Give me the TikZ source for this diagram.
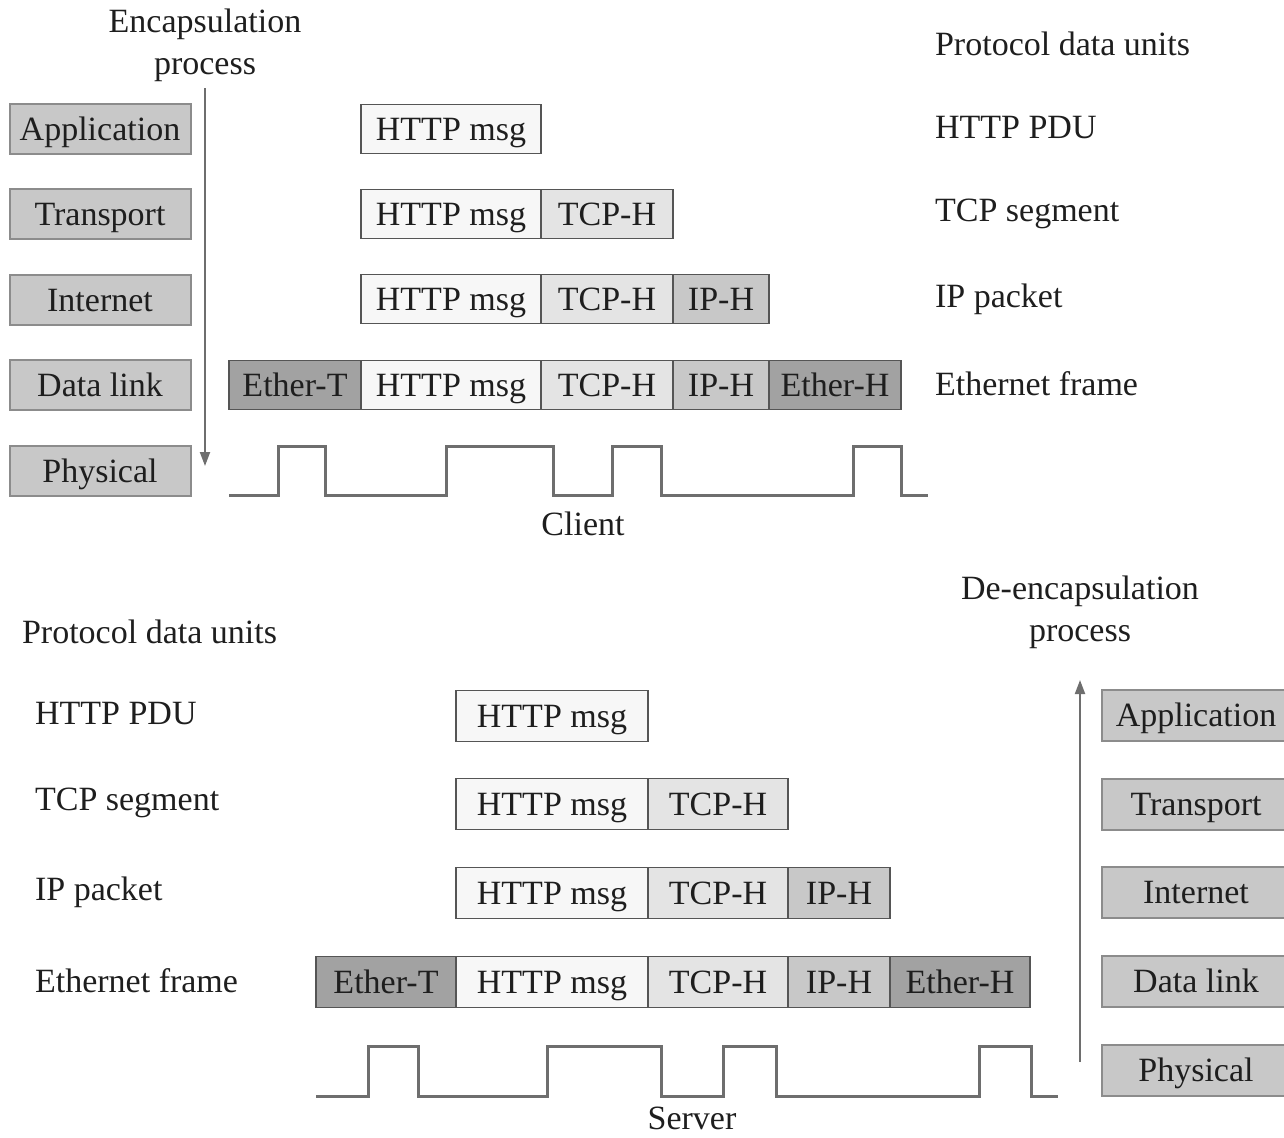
\documentclass[tikz,border=0pt]{standalone}
\usepackage{fontspec}
\setmainfont{Liberation Serif}
\usetikzlibrary{arrows.meta}

\definecolor{layerfill}{HTML}{C8C8C8}
\definecolor{layeredge}{HTML}{8C8C8C}
\definecolor{msgfill}{HTML}{F7F7F7}
\definecolor{tcpfill}{HTML}{E4E4E4}
\definecolor{ipfill}{HTML}{C8C8C8}
\definecolor{etherfill}{HTML}{A2A2A2}
\definecolor{segedge}{HTML}{555555}
\definecolor{wavegray}{HTML}{6E6E6E}
\definecolor{inkgray}{HTML}{1E1E1E}

\newcommand{\pdufont}{\fontsize{17}{21}\selectfont}

\begin{document}
\begin{tikzpicture}[
    x=0.5pt, y=-0.5pt,
    every node/.style={text=inkgray},
    layer/.style={rectangle, draw=layeredge, fill=layerfill, line width=1pt, inner sep=0pt, text height=12.5pt, text depth=1.3pt, minimum width=90.5pt, minimum height=25pt, font=\pdufont},
    seg/.style={rectangle, draw=segedge, line width=0.9pt, inner sep=0pt, text height=12.5pt, text depth=1.3pt, minimum height=24.5pt, font=\pdufont},
    bigseg/.style={seg, minimum height=25.5pt},
    unit/.style={font=\pdufont, anchor=west},
    title/.style={font=\pdufont, align=center},
    wave/.style={draw=wavegray, line width=1.5pt},
    arrow/.style={-{Triangle[length=7pt, width=5pt]}, draw=wavegray, fill=wavegray, line width=1pt}
]
\useasboundingbox (0,0) rectangle (1284,1137);

% Encapsulation (client)
\node[title] (enc) at (205,45) {Encapsulation\\process};
\coordinate (encend) at (205,466);
\draw[arrow] (enc.south) -- (encend);

\node[layer] (app1) at (100,129) {Application};
\node[layer] (trans1) at (100,214) {Transport};
\node[layer] (inet1) at (100,300) {Internet};
\node[layer] (link1) at (100,385) {Data link};
\node[layer] (phys1) at (100,471) {Physical};

\node[unit] (units1) at (928,44) {Protocol data units};
\node[unit] (httppdu1) at (928,128) {HTTP PDU};
\node[unit] (tcpseg1) at (928,214) {TCP segment};
\node[unit] (ippkt1) at (928,299) {IP packet};
\node[unit] (frame1) at (928,384) {Ethernet frame};

% row 1
\node[seg, fill=msgfill, minimum width=90pt] (msg1a) at (451,129) {HTTP msg};
% row 2
\node[seg, fill=msgfill, minimum width=90pt] (msg1b) at (451,214) {HTTP msg};
\node[seg, fill=tcpfill, minimum width=66pt] (tcp1b) at (607,214) {TCP-H};
% row 3
\node[seg, fill=msgfill, minimum width=90pt] (msg1c) at (451,299) {HTTP msg};
\node[seg, fill=tcpfill, minimum width=66pt] (tcp1c) at (607,299) {TCP-H};
\node[seg, fill=ipfill, minimum width=48pt] (ip1c) at (721,299) {IP-H};
% row 4
\node[seg, fill=etherfill, minimum width=66pt] (ethT1) at (295,385) {Ether-T};
\node[seg, fill=msgfill, minimum width=90pt] (msg1d) at (451,385) {HTTP msg};
\node[seg, fill=tcpfill, minimum width=66pt] (tcp1d) at (607,385) {TCP-H};
\node[seg, fill=ipfill, minimum width=48pt] (ip1d) at (721,385) {IP-H};
\node[seg, fill=etherfill, minimum width=66pt] (ethH1) at (835,385) {Ether-H};

% signal
\draw[wave] (229,495) -- (278,495) -- (278,446) -- (325,446) -- (325,495) -- (446,495) -- (446,446) -- (553,446) -- (553,495) -- (612,495) -- (612,446) -- (661,446) -- (661,495) -- (853,495) -- (853,446) -- (901,446) -- (901,495) -- (928,495);
\node[title] (client) at (583,524) {Client};

% De-encapsulation (server)
\node[title] (deenc) at (1080,612) {De-encapsulation\\process};
\coordinate (decstart) at (1080,1062);
\coordinate (decend) at (1080,680);
\draw[arrow] (decstart) -- (decend);

\node[layer, minimum width=94pt, minimum height=25.5pt] (app2) at (1196,715) {Application};
\node[layer, minimum width=94pt, minimum height=25.5pt] (trans2) at (1196,804) {Transport};
\node[layer, minimum width=94pt, minimum height=25.5pt] (inet2) at (1196,892) {Internet};
\node[layer, minimum width=94pt, minimum height=25.5pt] (link2) at (1196,981) {Data link};
\node[layer, minimum width=94pt, minimum height=25.5pt] (phys2) at (1196,1070) {Physical};

\node[unit] (units2) at (15,632) {Protocol data units};
\node[unit] (httppdu2) at (28,714) {HTTP PDU};
\node[unit] (tcpseg2) at (28,803) {TCP segment};
\node[unit] (ippkt2) at (28,892) {IP packet};
\node[unit] (frame2) at (28,981) {Ethernet frame};

% row 1
\node[bigseg, fill=msgfill, minimum width=96pt] (msg2a) at (552,716) {HTTP msg};
% row 2
\node[bigseg, fill=msgfill, minimum width=96pt] (msg2b) at (552,804) {HTTP msg};
\node[bigseg, fill=tcpfill, minimum width=70pt] (tcp2b) at (718,804) {TCP-H};
% row 3
\node[bigseg, fill=msgfill, minimum width=96pt] (msg2c) at (552,893) {HTTP msg};
\node[bigseg, fill=tcpfill, minimum width=70pt] (tcp2c) at (718,893) {TCP-H};
\node[bigseg, fill=ipfill, minimum width=51pt] (ip2c) at (839,893) {IP-H};
% row 4
\node[bigseg, fill=etherfill, minimum width=70pt] (ethT2) at (386,982) {Ether-T};
\node[bigseg, fill=msgfill, minimum width=96pt] (msg2d) at (552,982) {HTTP msg};
\node[bigseg, fill=tcpfill, minimum width=70pt] (tcp2d) at (718,982) {TCP-H};
\node[bigseg, fill=ipfill, minimum width=51pt] (ip2d) at (839,982) {IP-H};
\node[bigseg, fill=etherfill, minimum width=70pt] (ethH2) at (960,982) {Ether-H};

% signal
\draw[wave] (316,1096) -- (368,1096) -- (368,1046) -- (418,1046) -- (418,1096) -- (547,1096) -- (547,1046) -- (661,1046) -- (661,1096) -- (723,1096) -- (723,1046) -- (776,1046) -- (776,1096) -- (979,1096) -- (979,1046) -- (1031,1046) -- (1031,1096) -- (1058,1096);
\node[title] (server) at (692,1118) {Server};

\end{tikzpicture}
\end{document}
